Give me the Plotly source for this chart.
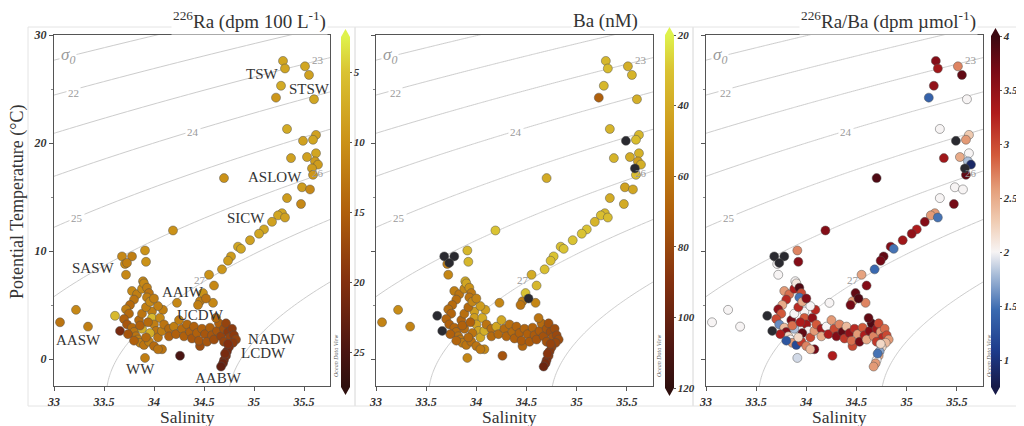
import numpy as np
import plotly.graph_objects as go

# ---------------- data ----------------
sal = [35.29, 35.31, 35.51, 35.55, 35.27, 35.22, 35.60, 35.33, 35.62, 35.59,
       35.49, 35.37, 35.53, 35.62, 35.61, 35.64, 35.58, 35.59, 34.70, 35.48,
       35.56, 35.33, 35.47, 35.28, 35.24, 35.31, 35.18, 35.10, 35.05, 34.96,
       34.84, 34.87, 34.77, 34.74, 34.68, 34.55, 34.60, 34.19, 33.68, 33.78,
       33.71, 33.73, 33.91, 33.92, 33.72, 33.89, 33.22, 33.06, 33.34, 33.61,
       33.66, 33.91, 34.26, 34.08, 34.23, 34.46, 34.44, 34.59, 34.49, 34.52,
       34.46, 33.98, 34.09,
       33.78, 33.83, 33.88, 33.90, 33.93, 33.95, 33.93, 33.80, 33.76, 33.72,
       33.75, 33.70, 33.73, 33.78, 33.80, 33.82, 33.84, 33.86, 33.90, 33.95,
       34.00, 34.04, 33.88, 33.85, 33.88, 33.92, 33.96, 33.98, 34.00, 34.02,
       33.96, 33.92, 34.04, 34.08, 34.06, 34.04, 34.00, 33.74, 33.80, 33.86,
       33.94,
       34.10, 34.15, 34.15, 34.20, 34.22, 34.25, 34.28, 34.30, 34.33, 34.36,
       34.38, 34.40, 34.43, 34.45, 34.48, 34.51, 34.53, 34.56, 34.58, 34.60,
       34.63, 34.65, 34.67, 34.70, 34.72, 34.74, 34.76, 34.78, 34.80, 34.82,
       34.79, 34.70, 34.75, 34.73, 34.72, 34.70, 34.69, 34.67, 34.71, 34.74,
       34.62]
temp = [27.6, 26.9, 27.1, 26.3, 25.3, 24.2, 24.05, 21.3, 20.75, 20.3,
        20.2, 18.6, 18.7, 19.05, 18.3, 18.0, 17.65, 17.05, 16.75, 15.9,
        15.7, 14.9, 14.35, 13.5, 13.3, 13.1, 12.7, 12.0, 11.6, 11.0,
        10.4, 10.2, 9.5, 9.1, 8.3, 7.8, 6.8, 11.9, 9.5, 9.5,
        8.8, 8.9, 10.05, 9.0, 7.8, 7.2, 4.55, 3.4, 3.0, 4.0,
        2.6, 0.1, 0.3, 0.9, 5.2, 5.35, 5.0, 5.2, 6.1, 5.6,
        1.2, 4.4, 4.55,
        6.3, 6.0, 6.5, 7.0, 6.6, 6.1, 5.7, 5.5, 5.0, 4.6,
        4.2, 3.7, 3.2, 2.9, 2.5, 2.1, 1.8, 1.5, 1.3, 1.6,
        1.2, 0.9, 2.8, 3.6, 4.2, 4.8, 5.3, 3.8, 3.2, 2.6,
        2.4, 2.0, 2.0, 2.6, 3.8, 4.9, 5.6, 2.3, 1.7, 3.1,
        3.4,
        3.2, 2.8, 2.1, 3.0, 2.3, 3.6, 2.8, 2.1, 3.2, 2.5,
        1.9, 3.0, 2.4, 1.7, 2.8, 2.3, 1.6, 2.9, 2.2, 1.8,
        2.6, 3.3, 2.1, 2.8, 3.3, 2.5, 2.0, 2.8, 2.2, 1.8,
        1.5, 1.6, 1.1, 0.7, 0.3, -0.1, -0.4, -0.7, 0.5, 1.4,
        3.8]
ra226 = [8, 8, 8, 8.5, 7.5, 9.5, 8, 7.5, 8.5, 8,
         8.5, 8.5, 8.5, 8, 9, 9, 9, 9.5, 10, 9,
         11, 9, 11, 8, 8, 8.5, 8.5, 8, 8, 8.5,
         8, 8, 9, 9, 9.5, 10, 11, 10, 11, 12,
         11, 12, 10, 10, 11, 11, 11, 13, 12, 6,
         21, 12, 25, 13, 11, 12, 12, 11, 10, 13,
         17, 12, 12,
         11, 12, 11, 11, 12, 13, 12, 13, 14, 12,
         14, 15, 16, 14, 13, 13, 12, 12, 13, 12,
         14, 13, 7, 14, 13, 12, 11, 6, 12, 13,
         7, 14, 13, 12, 11, 12, 12, 16, 15, 15,
         14,
         13, 14, 15, 12, 15, 12, 14, 15, 14, 15,
         16, 15, 15, 16, 15, 16, 16, 15, 16, 17,
         16, 15, 18, 17, 18, 19, 18, 19, 19, 18,
         19, 18, 20, 21, 20, 21, 22, 23, 21, 20,
         14]
ba = [35, 33, 38, 36, 35, 70, 38, 36, 35, 33,
      125, 36, 40, 37, 45, 38, 125, 32, 40, 44,
      42, 40, 40, 35, 32, 33, 36, 30, 30, 30,
      32, 30, 30, 32, 32, 40, 35, 30, 125, 125,
      58, 125, 35, 35, 55, 40, 52, 56, 56, 125,
      125, 55, 75, 55, 55, 58, 62, 55, 30, 125,
      68, 45, 45,
      58, 62, 55, 42, 50, 60, 62, 64, 66, 64,
      68, 68, 70, 68, 66, 64, 62, 60, 62, 64,
      62, 60, 66, 68, 64, 66, 55, 45, 44, 42,
      62, 66, 42, 38, 40, 46, 56, 70, 68, 70,
      70,
      62, 64, 66, 42, 66, 42, 66, 68, 64, 66,
      70, 68, 70, 72, 68, 70, 72, 68, 72, 74,
      72, 66, 76, 74, 76, 78, 76, 78, 80, 78,
      80, 76, 82, 86, 86, 90, 94, 98, 88, 82,
      62]
ra_ba = [3.6, 3.4, 2.7, 3.8, 3.5, 1.4, 2.0, 2.0, 2.3, 2.6,
         4.5, 3.4, 2.5, 2.0, 1.8, 0.9, 4.5, 3.8, 3.9, 2.0,
         2.0, 2.0, 3.7, 2.6, 2.6, 1.5, 3.6, 3.3, 3.5, 3.4,
         3.6, 1.5, 3.8, 3.7, 1.45, 2.55, 3.6, 3.6, 4.5, 4.5,
         2.0, 4.5, 2.7, 3.6, 2.0, 2.0, 2.0, 2.0, 2.0, 4.5,
         4.5, 1.9, 3.3, 3.7, 2.0, 2.6, 3.7, 2.7, 3.8, 3.9,
         3.0, 2.0, 3.2,
         2.6, 2.8, 3.3, 2.1, 3.9, 3.0, 1.5, 3.2, 2.5, 3.5,
         2.9, 3.0, 1.6, 2.4, 3.6, 2.2, 2.0, 2.6, 1.2, 3.1,
         2.7, 2.4, 1.8, 3.7, 2.0, 3.2, 2.5, 2.9, 3.4, 2.0,
         3.8, 2.2, 3.0, 2.6, 3.5, 2.0, 3.6, 3.3, 1.3, 2.8,
         3.3,
         2.9, 3.4, 2.5, 2.0, 3.3, 2.6, 3.0, 3.6, 2.7, 3.8,
         3.1, 2.4, 3.5, 2.8, 3.2, 2.6, 3.7, 2.9, 3.3, 2.5,
         3.6, 3.9, 2.7, 3.4, 3.0, 2.6, 3.2, 2.8, 3.0, 2.6,
         2.4, 3.1, 2.2, 1.7, 2.5, 2.0, 2.6, 2.6, 1.5, 2.2,
         3.8]

water_masses = ["TSW", "STSW", "ASLOW", "SICW", "SASW", "AAIW", "UCDW",
                "NADW", "LCDW", "AASW", "WW", "AABW"]
wm_sal = [35.08, 35.55, 35.21, 34.92, 33.39, 34.29, 34.46, 35.17, 35.09, 33.24, 33.86, 34.64]
wm_temp = [26.4, 25.0, 16.85, 13.05, 8.4, 6.2, 4.1, 1.85, 0.55, 1.75, -0.9, -1.75]

sigma_levels = [21, 28, 1]
sigma_labels = ["22", "23", "24", "25", "26", "27"]
sigma_lab_sal = [33.19, 35.64, 34.39, 33.23, 35.64, 34.46]
sigma_lab_temp = [24.6, 27.7, 21.0, 13.05, 17.2, 7.3]

x_ticks = [33, 33.5, 34, 34.5, 35, 35.5]
y_ticks = [0, 10, 20, 30]
ra_ticks = [5, 10, 15, 20, 25]
ba_ticks = [20, 40, 60, 80, 100, 120]
rr_ticks = [1, 1.5, 2, 2.5, 3, 3.5, 4]

# ---------------- geometry helpers ----------------
# page body has an 8px margin: figure is placed at (8, 8), coordinates below are window pixels
OFF = 8
W, H = 1024 - OFF, 426 - OFF
def fx(p): return (p - OFF) / W
def fy(p): return 1 - (p - OFF) / H

SERIF = "Liberation Serif"
TXT = "#333333"

solar = [[0.0, '#2e0f0e'], [0.1, '#4a1512'], [0.3, '#83300f'], [0.5, '#b0600c'],
         [0.7, '#cb9218'], [0.9, '#dac332'], [1.0, '#dff24c']]
balance = [[0.0, '#171a48'], [0.1, '#1d3a8a'], [0.22, '#3a6ab0'], [0.32, '#a8bcd8'],
           [0.385, '#f7f4f4'], [0.47, '#f0cdb4'], [0.56, '#e5a07c'], [0.66, '#d35a3a'],
           [0.78, '#b01c1c'], [0.9, '#7a0a16'], [1.0, '#3c0911']]

# sigma-0 (UNESCO EOS-80 at p=0)
def sigma0(S, T):
    rw = (999.842594 + 6.793952e-2 * T - 9.095290e-3 * T**2 + 1.001685e-4 * T**3
          - 1.120083e-6 * T**4 + 6.536332e-9 * T**5)
    A = 8.24493e-1 - 4.0899e-3 * T + 7.6438e-5 * T**2 - 8.2467e-7 * T**3 + 5.3875e-9 * T**4
    B = -5.72466e-3 + 1.0227e-4 * T - 1.6546e-6 * T**2
    C = 4.8314e-4
    return rw + A * S + B * S**1.5 + C * S**2 - 1000.0

gs = np.linspace(32.9, 35.9, 151)
gt = np.linspace(-3.5, 31, 176)
SS, TT = np.meshgrid(gs, gt)
ZZ = sigma0(SS, TT)

panels = [  # plot-area px: left, right ; colorbar px left
    dict(l=54, r=330, cb=341, cbtop=37, cbbot=387),
    dict(l=376, r=653, cb=665, cbtop=35, cbbot=388),
    dict(l=706, r=983, cb=991, cbtop=36, cbbot=387),
]
PT, PB = 35, 386

fig = go.Figure()

S = np.array(sal); T = np.array(temp)
vals = [np.array(ra226), np.array(ba), np.array(ra_ba)]
specs = [
    dict(sign=-1, cmin=-27.5, cmax=-2.5, scale=solar, ticks=ra_ticks, over=None),
    dict(sign=-1, cmin=-120, cmax=-20, scale=solar, ticks=ba_ticks, over=120),
    dict(sign=1, cmin=0.75, cmax=4.0, scale=balance, ticks=rr_ticks, over=4.0),
]

def ann(**kw):
    kw.setdefault('showarrow', False)
    kw.setdefault('xanchor', 'center')
    kw.setdefault('yanchor', 'middle')
    return kw

shapes = []
annotations = []
for i, (p, v, sp) in enumerate(zip(panels, vals, specs)):
    xa = 'x' if i == 0 else f'x{i+1}'
    ya = 'y' if i == 0 else f'y{i+1}'
    fig.add_trace(go.Contour(
        x=gs, y=gt, z=ZZ, xaxis=xa, yaxis=ya,
        contours=dict(start=sigma_levels[0], end=sigma_levels[1], size=sigma_levels[2],
                      coloring='lines', showlabels=False),
        colorscale=[[0, '#cccccc'], [1, '#cccccc']], showscale=False,
        line=dict(width=1), hoverinfo='skip'))
    if sp['over'] is None:
        inr = np.ones(len(v), bool)
    else:
        inr = v <= sp['over']
    cbh = (p['cbbot'] - p['cbtop']) / H
    fig.add_trace(go.Scatter(
        x=S[inr], y=T[inr], mode='markers', xaxis=xa, yaxis=ya,
        marker=dict(size=9, color=sp['sign'] * v[inr], cmin=sp['cmin'], cmax=sp['cmax'],
                    colorscale=sp['scale'], line=dict(width=0.8, color='rgba(80,80,80,0.6)'),
                    colorbar=dict(x=fx(p['cb']), xanchor='left', y=fy((p['cbtop'] + p['cbbot']) / 2),
                                  yanchor='middle', len=cbh, lenmode='fraction',
                                  thickness=9, thicknessmode='pixels', xpad=0, ypad=0,
                                  outlinewidth=0, ticks='outside', ticklen=2, tickcolor='#555',
                                  tickmode='array', tickvals=[sp['sign'] * t for t in sp['ticks']],
                                  ticktext=[f"{t:g}" for t in sp['ticks']],
                                  tickfont=dict(family=SERIF, size=11, color=TXT,
                                                weight='bold', style='italic'))),
        showlegend=False, hoverinfo='skip'))
    if sp['over'] is not None and (~inr).any():
        fig.add_trace(go.Scatter(
            x=S[~inr], y=T[~inr], mode='markers', xaxis=xa, yaxis=ya,
            marker=dict(size=9, color='#2a2a30', line=dict(width=0.8, color='rgba(80,80,80,0.6)')),
            showlegend=False, hoverinfo='skip'))

    # colorbar end arrows
    lo = sp['scale'][0][1]; hi = sp['scale'][-1][1]
    x0, x1 = p['cb'], p['cb'] + 9
    xm = (x0 + x1) / 2
    shapes.append(dict(type='path', xref='paper', yref='paper', line=dict(width=0), fillcolor=hi,
                       path=f"M {fx(x0)},{fy(p['cbtop'])} L {fx(x1)},{fy(p['cbtop'])} L {fx(xm)},{fy(p['cbtop']-8)} Z"))
    shapes.append(dict(type='path', xref='paper', yref='paper', line=dict(width=0), fillcolor=lo,
                       path=f"M {fx(x0)},{fy(p['cbbot'])} L {fx(x1)},{fy(p['cbbot'])} L {fx(xm)},{fy(p['cbbot']+8)} Z"))

    # contour labels
    for lab, ls, lt in zip(sigma_labels, sigma_lab_sal, sigma_lab_temp):
        a = ann(x=ls, y=lt, xref=xa, yref=ya, text=lab,
                font=dict(family=SERIF, size=11, color='#9a9a9a'))
        if lab in ('22', '24', '25'):
            a['bgcolor'] = 'white'
        annotations.append(a)
    annotations.append(ann(x=33.14, y=28.1, xref=xa, yref=ya, text='σ<sub>0</sub>', bgcolor='white',
                           font=dict(family=SERIF, size=17, color='#9a9a9a', style='italic')))
    # Ocean Data View
    annotations.append(ann(x=fx(p['r'] + 6), y=fy(356), xref='paper', yref='paper',
                           text='Ocean Data View', textangle=-90,
                           font=dict(family=SERIF, size=6, color='#666', style='italic')))
    # Salinity label
    annotations.append(ann(x=fx((p['l'] + p['r']) / 2 - 5), y=fy(416.5), xref='paper', yref='paper',
                           text='Salinity', font=dict(family=SERIF, size=17.5, color=TXT)))
    # faint frame
    fr = [(28, 355), (355, 693), (693, 1020)][i]
    shapes.append(dict(type='rect', xref='paper', yref='paper', x0=fx(fr[0]), x1=fx(fr[1]),
                       y0=fy(406), y1=fy(27), line=dict(color='#e4e4e4', width=1), layer='below'))

# water mass labels (panel 1)
for name, ws, wt in zip(water_masses, wm_sal, wm_temp):
    annotations.append(ann(x=ws, y=wt, xref='x', yref='y', text=name,
                           font=dict(family=SERIF, size=15, color=TXT)))

# titles
titles = ["<sup>226</sup>Ra (dpm 100 L<sup>-1</sup>)", "Ba (nM)", "<sup>226</sup>Ra/Ba (dpm µmol<sup>-1</sup>)"]
tright = [328, 640, 978]
for t, r in zip(titles, tright):
    annotations.append(ann(x=fx(r), y=fy(21), xref='paper', yref='paper', xanchor='right',
                           text=t, bgcolor='white', font=dict(family=SERIF, size=19, color=TXT)))

annotations.append(ann(x=fx(17), y=fy(202), xref='paper', yref='paper', text='Potential Temperature (°C)',
                       textangle=-90, font=dict(family=SERIF, size=18, color=TXT)))

layout = dict(width=W, height=H, margin=dict(l=0, r=0, t=0, b=0, autoexpand=False),
              paper_bgcolor='white', plot_bgcolor='white', hovermode=False,
              shapes=shapes, annotations=annotations)
for i, p in enumerate(panels):
    xk = 'xaxis' if i == 0 else f'xaxis{i+1}'
    yk = 'yaxis' if i == 0 else f'yaxis{i+1}'
    ya = 'y' if i == 0 else f'y{i+1}'
    xa = 'x' if i == 0 else f'x{i+1}'
    layout[xk] = dict(domain=[fx(p['l']), fx(p['r'])], anchor=ya, range=[33, 35.76],
                      tickmode='array', tickvals=x_ticks, showgrid=False, zeroline=False,
                      showline=True, mirror=True, linecolor='#555', linewidth=1.2,
                      ticks='outside', ticklen=4, tickcolor='#555', automargin=False,
                      tickfont=dict(family=SERIF, size=12, color=TXT, weight='bold', style='italic'))
    layout[yk] = dict(domain=[fy(PB), fy(PT)], anchor=xa, range=[-2.5, 30],
                      tickmode='array', tickvals=y_ticks, showticklabels=(i == 0),
                      showgrid=False, zeroline=False, showline=True, mirror=True, automargin=False,
                      linecolor='#555', linewidth=1.2, ticks='outside', ticklen=4, tickcolor='#555',
                      minor=dict(tickvals=[5, 15, 25], ticks='outside', ticklen=2, tickcolor='#888'),
                      tickfont=dict(family=SERIF, size=12, color=TXT, weight='bold', style='italic'))
fig.update_layout(**layout)
fig.write_html("out.html")
